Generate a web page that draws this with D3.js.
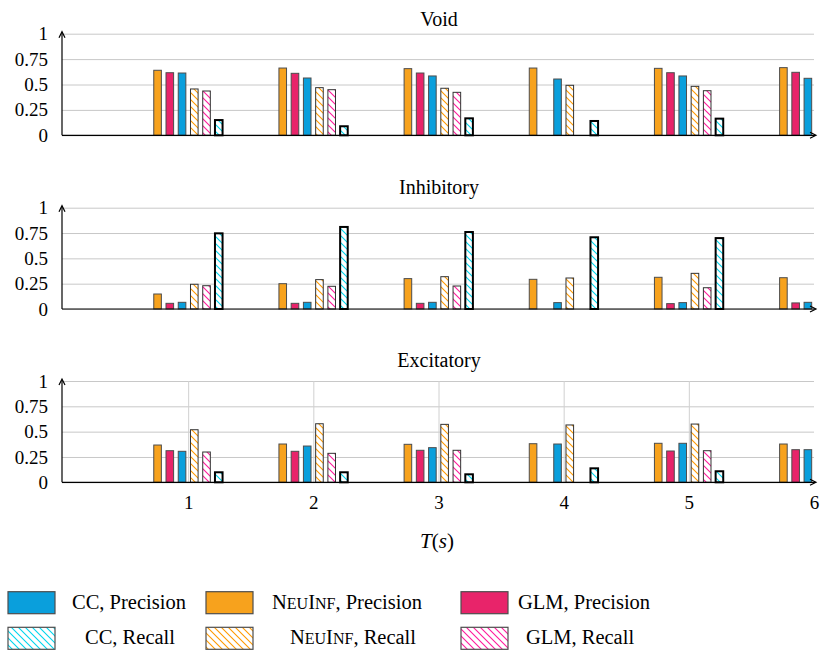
<!DOCTYPE html>
<html>
<head>
<meta charset="utf-8">
<script src="https://cdn.jsdelivr.net/npm/d3@7"></script>
<style>
  html, body { margin: 0; padding: 0; background: #fff; }
  svg { display: block; }
  svg text { font-family: "Liberation Serif", "Times New Roman", "DejaVu Serif", "Noto Serif", serif; fill: #000; }
</style>
</head>
<body>
<svg id="chart" width="820" height="654"></svg>
<script>
// Observation windows T (seconds)
const times = [1, 2, 3, 4, 5, 6];
const yTicks = [0, 0.25, 0.5, 0.75, 1];
const yTickLabels = ["0", "0.25", "0.5", "0.75", "1"];
const xTicks = [1, 2, 3, 4, 5, 6];

// Void connections
const voidNeuInfPrecision = [0.64, 0.662, 0.656, 0.662, 0.659, 0.666];
const voidGlmPrecision    = [0.616, 0.61, 0.613, null, 0.616, 0.62];
const voidCcPrecision     = [0.613, 0.564, 0.584, 0.554, 0.584, 0.561];
const voidNeuInfRecall    = [0.456, 0.469, 0.463, 0.492, 0.482, null];
const voidGlmRecall       = [0.436, 0.449, 0.423, null, 0.439, null];
const voidCcRecall        = [0.15, 0.089, 0.167, 0.141, 0.164, null];

// Inhibitory connections
const inhNeuInfPrecision = [0.148, 0.25, 0.30, 0.293, 0.313, 0.309];
const inhGlmPrecision    = [0.056, 0.056, 0.056, null, 0.053, 0.06];
const inhCcPrecision     = [0.066, 0.066, 0.066, 0.063, 0.063, 0.066];
const inhNeuInfRecall    = [0.244, 0.29, 0.319, 0.306, 0.352, null];
const inhGlmRecall       = [0.23, 0.224, 0.227, null, 0.21, null];
const inhCcRecall        = [0.747, 0.81, 0.76, 0.708, 0.70, null];

// Excitatory connections
const excNeuInfPrecision = [0.368, 0.378, 0.375, 0.381, 0.385, 0.378];
const excGlmPrecision    = [0.312, 0.306, 0.316, null, 0.309, 0.322];
const excCcPrecision     = [0.306, 0.358, 0.342, 0.378, 0.385, 0.322];
const excNeuInfRecall    = [0.519, 0.578, 0.572, 0.566, 0.575, null];
const excGlmRecall       = [0.299, 0.286, 0.316, null, 0.312, null];
const excCcRecall        = [0.099, 0.099, 0.079, 0.138, 0.109, null];

// Bar series, in drawing order within each group
const seriesKeys = ["neuP", "glmP", "ccP", "neuR", "glmR", "ccR"];

const panels = [
  { title: "Void", titleY: 26, top: 33.7, bottom: 135.3, vgrid: false,
    values: [voidNeuInfPrecision, voidGlmPrecision, voidCcPrecision, voidNeuInfRecall, voidGlmRecall, voidCcRecall] },
  { title: "Inhibitory", titleY: 194, top: 207.7, bottom: 309, vgrid: false,
    values: [inhNeuInfPrecision, inhGlmPrecision, inhCcPrecision, inhNeuInfRecall, inhGlmRecall, inhCcRecall] },
  { title: "Excitatory", titleY: 367, top: 381, bottom: 482.3, vgrid: true,
    values: [excNeuInfPrecision, excGlmPrecision, excCcPrecision, excNeuInfRecall, excGlmRecall, excCcRecall] }
];

const colors = {
  ccBlue: "#0a9fdc",
  neuOrange: "#f7a21d",
  glmRed: "#e8246a",
  ccHatch: "#00d6ee",
  neuHatch: "#ff9a00",
  glmHatch: "#ff1a9c"
};

const styles = {
  neuP: { fill: colors.neuOrange, stroke: "#4d4d4d", sw: 1 },
  glmP: { fill: colors.glmRed, stroke: "#4d4d4d", sw: 1 },
  ccP:  { fill: colors.ccBlue, stroke: "#4d4d4d", sw: 1 },
  neuR: { fill: "url(#hatch-neu)", stroke: "#333", sw: 1 },
  glmR: { fill: "url(#hatch-glm)", stroke: "#333", sw: 1 },
  ccR:  { fill: "url(#hatch-cc)", stroke: "#000", sw: 2 }
};

const serif = '"Liberation Serif", "Times New Roman", "DejaVu Serif", "Noto Serif", serif';

const svg = d3.select("#chart");
const defs = svg.append("defs");

function hatch(id, color) {
  const p = defs.append("pattern")
    .attr("id", id)
    .attr("patternUnits", "userSpaceOnUse")
    .attr("width", 7).attr("height", 7);
  p.append("rect").attr("width", 7).attr("height", 7).attr("fill", "#fff");
  p.append("path")
    .attr("d", "M0,0 L7,7 M-1,6 L1,8 M6,-1 L8,1")
    .attr("stroke", color).attr("stroke-width", 1.1);
}
hatch("hatch-cc", colors.ccHatch);
hatch("hatch-neu", colors.neuHatch);
hatch("hatch-glm", colors.glmHatch);

const xLeft = 62, xRight = 814;
const x = d3.scaleLinear().domain([0, 6]).range([63, 814]);
const offset = d3.scalePoint().domain(seriesKeys).range([-30.6, 30.6]);
const barW = 7.6;

panels.forEach((panel, pi) => {
  const y = d3.scaleLinear().domain([0, 1]).range([panel.bottom, panel.top]);
  const g = svg.append("g");

  // horizontal grid
  g.append("g")
    .attr("transform", `translate(${xLeft},0)`)
    .call(d3.axisLeft(y).tickValues(yTicks).tickSize(-(xRight - xLeft)).tickFormat(""))
    .call(s => s.select(".domain").remove())
    .call(s => s.selectAll("line").attr("stroke", "#c8c8c8").attr("stroke-width", 1));

  // vertical grid (bottom panel only)
  if (panel.vgrid) {
    g.append("g")
      .attr("transform", `translate(0,${panel.bottom})`)
      .call(d3.axisBottom(x).tickValues([1, 2, 3, 4, 5]).tickSize(-(panel.bottom - panel.top)).tickFormat(""))
      .call(s => s.select(".domain").remove())
      .call(s => s.selectAll("line").attr("stroke", "#d0d0d0").attr("stroke-width", 1));
  }

  // y tick labels
  g.append("g")
    .attr("transform", `translate(${xLeft},0)`)
    .call(d3.axisLeft(y).tickValues(yTicks).tickSize(0).tickPadding(14)
      .tickFormat((d, i) => yTickLabels[i]))
    .attr("font-family", serif)
    .call(s => s.select(".domain").remove())
    .call(s => s.selectAll("text")
      .style("font-size", "19px").attr("fill", "#000"));

  // bars
  seriesKeys.forEach((key, si) => {
    const st = styles[key];
    const rows = times.map((t, i) => ({ t, v: panel.values[si][i] }))
      .filter(d => d.v !== null);
    g.append("g").selectAll("rect")
      .data(rows)
      .join("rect")
      .attr("x", d => x(d.t) + offset(key) - barW / 2)
      .attr("y", d => y(d.v))
      .attr("width", barW)
      .attr("height", d => y(0) - y(d.v))
      .attr("fill", st.fill)
      .attr("stroke", st.stroke)
      .attr("stroke-width", st.sw);
  });

  // axis lines with arrow tips
  g.append("line")
    .attr("x1", xLeft).attr("x2", xLeft)
    .attr("y1", y(0)).attr("y2", y(1) - 1)
    .attr("stroke", "#000").attr("stroke-width", 1.2);
  g.append("path")
    .attr("d", `M${xLeft - 3},${y(1) + 4} L${xLeft},${y(1) - 2} L${xLeft + 3},${y(1) + 4}`)
    .attr("fill", "none").attr("stroke", "#000").attr("stroke-width", 1.2);
  g.append("line")
    .attr("x1", xLeft).attr("x2", xRight + 1)
    .attr("y1", y(0)).attr("y2", y(0))
    .attr("stroke", "#000").attr("stroke-width", 1.2);
  g.append("path")
    .attr("d", `M${xRight - 4},${y(0) + 3} L${xRight + 2},${y(0)} L${xRight - 4},${y(0) - 3}`)
    .attr("fill", "none").attr("stroke", "#000").attr("stroke-width", 1.2);

  // title
  svg.append("text")
    .attr("x", 439).attr("y", panel.titleY)
    .attr("text-anchor", "middle")
    .attr("font-family", serif)
    .style("font-size", "20px")
    .text(panel.title);

  // x tick labels on the bottom panel
  if (pi === panels.length - 1) {
    g.append("g")
      .attr("transform", `translate(0,${panel.bottom})`)
      .call(d3.axisBottom(x).tickValues(xTicks).tickSize(0).tickPadding(13).tickFormat(d3.format("d")))
      .attr("font-family", serif)
      .call(s => s.select(".domain").remove())
      .call(s => s.selectAll("text")
        .style("font-size", "19px").attr("fill", "#000"));
  }
});

// x axis title
const xt = svg.append("text")
  .attr("x", 437).attr("y", 548)
  .attr("text-anchor", "middle")
  .attr("font-family", serif)
  .style("font-size", "21px").style("font-style", "italic");
xt.append("tspan").text("T");
xt.append("tspan").style("font-style", "normal").text("(");
xt.append("tspan").text("s");
xt.append("tspan").style("font-style", "normal").text(")");

// legend
const legendCols = [
  { sx: 8, tx: 72, cx: 130, name: "CC", p: "ccP", r: "ccR" },
  { sx: 206, tx: 272, cx: 353, name: "NEUINF", p: "neuP", r: "neuR" },
  { sx: 461, tx: 518, cx: 580, name: "GLM", p: "glmP", r: "glmR" }
];
const legendRows = [
  { y: 591.7, base: 608.5, label: "Precision", kind: "p" },
  { y: 627.3, base: 644, label: "Recall", kind: "r" }
];

function writeName(textSel, name) {
  if (name === "NEUINF") {
    textSel.append("tspan").text("N");
    textSel.append("tspan").style("font-size", "16px").text("EU");
    textSel.append("tspan").text("I");
    textSel.append("tspan").style("font-size", "16px").text("NF");
  } else {
    textSel.append("tspan").text(name);
  }
}

legendRows.forEach(row => {
  legendCols.forEach(col => {
    const key = row.kind === "p" ? col.p : col.r;
    const st = styles[key];
    svg.append("rect")
      .attr("x", col.sx).attr("y", row.y)
      .attr("width", 47).attr("height", 22)
      .attr("fill", st.fill)
      .attr("stroke", "#4d4d4d").attr("stroke-width", 1.2);
    const t = svg.append("text")
      .attr("y", row.base)
      .attr("font-family", serif)
      .style("font-size", "20.5px");
    if (row.kind === "p") {
      t.attr("x", col.tx).attr("text-anchor", "start");
    } else {
      t.attr("x", col.cx).attr("text-anchor", "middle");
    }
    writeName(t, col.name);
    t.append("tspan").text(", " + row.label);
  });
});
</script>
</body>
</html>
